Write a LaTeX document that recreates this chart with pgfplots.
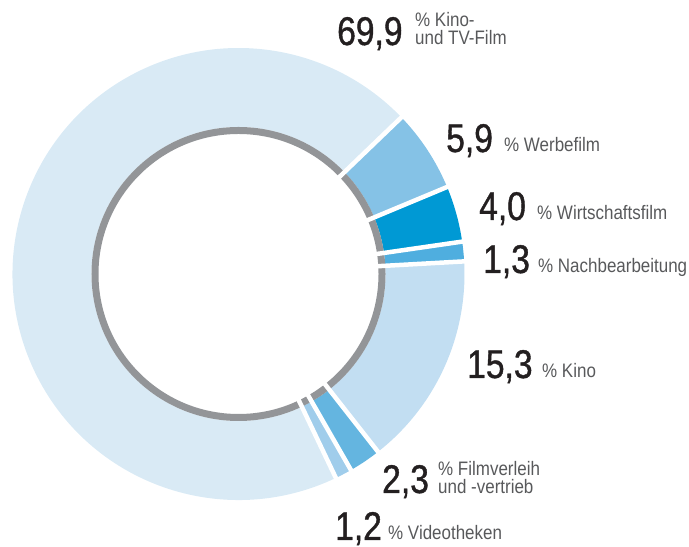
\documentclass[border=0pt]{standalone}
\usepackage{fontspec}
\setmainfont{Liberation Sans}[FakeStretch=0.87]
\newfontfamily\numfont{Liberation Sans}[FakeStretch=0.84, FakeBold=1]
\usepackage{pgfplots}
\usepackage{pgfplotstable}
\pgfplotsset{compat=1.18}

% segment colours, in table order (clockwise from the right)
\definecolor{seg0}{HTML}{C2DEF2}
\definecolor{seg1}{HTML}{64B5E0}
\definecolor{seg2}{HTML}{A0CDEB}
\definecolor{seg3}{HTML}{D9EAF5}
\definecolor{seg4}{HTML}{85C2E6}
\definecolor{seg5}{HTML}{0099D4}
\definecolor{seg6}{HTML}{4FAEDF}
\definecolor{ringgray}{HTML}{939598}
\definecolor{numcol}{HTML}{231F20}
\definecolor{txtcol}{HTML}{58595B}

\pgfplotstableread{
share
15.3
2.3
1.2
69.9
5.9
4.0
1.3
}\piedata

% cumulative angles, clockwise from 3.2 degrees
\xdef\cum{3.2}
\pgfplotsforeachungrouped \i in {0,...,6}{%
  \pgfplotstablegetelem{\i}{share}\of\piedata
  \pgfmathsetmacro\nxt{\cum-3.6*\pgfplotsretval}%
  \expandafter\xdef\csname aS\i\endcsname{\cum}%
  \expandafter\xdef\csname aE\i\endcsname{\nxt}%
  \xdef\cum{\nxt}%
}

\newcommand\bignum[1]{{\numfont\fontsize{40bp}{40bp}\selectfont\color{numcol}#1}}
\newcommand\smalltxt[1]{{\fontsize{19.5bp}{19.5bp}\selectfont\color{txtcol}#1}}
% two tight lines, baseline = last line
\newcommand\twolines[2]{{\fontsize{19.5bp}{16bp}\selectfont\color{txtcol}%
  \begin{tabular}[b]{@{}l@{}}#1\\#2\end{tabular}}}

\begin{document}
\begin{tikzpicture}
\begin{axis}[
    x=1bp, y=1bp,
    xmin=0, xmax=689, ymin=0, ymax=547,
    hide axis, clip=false, ticks=none,
    scale only axis
]
    \path (axis cs:0,0) rectangle (axis cs:689,547);

    % wedges (overlay: arc control points would widen the bounding box)
    \pgfplotsinvokeforeach{0,...,6}{
        \fill[overlay, seg#1, shift={(axis cs:238.5,273)}]
            (\csname aS#1\endcsname:226bp)
            arc[start angle=\csname aS#1\endcsname, end angle=\csname aE#1\endcsname, radius=226bp]
            -- (\csname aE#1\endcsname:147bp)
            arc[start angle=\csname aE#1\endcsname, end angle=\csname aS#1\endcsname, radius=147bp]
            -- cycle;
    }
    % inner grey ring
    \draw[overlay, ringgray, line width=7bp] (axis cs:238.5,273) circle[radius=143.5bp];
    % white gaps
    \pgfplotsinvokeforeach{0,...,6}{
        \draw[overlay, white, line width=4.5bp, shift={(axis cs:238.5,273)}]
            (\csname aS#1\endcsname:132bp) -- (\csname aS#1\endcsname:231bp);
    }

    % labels
    \node[anchor=base west, inner sep=0] at (axis cs:337,502) {\bignum{69,9}};
    \node[anchor=base west, inner sep=0] at (axis cs:415,502) {\twolines{\% Kino-}{und TV-Film}};

    \node[anchor=base west, inner sep=0] at (axis cs:446,395) {\bignum{5,9}};
    \node[anchor=base west, inner sep=0] at (axis cs:504,395) {\smalltxt{\% Werbefilm}};

    \node[anchor=base west, inner sep=0] at (axis cs:479,327) {\bignum{4,0}};
    \node[anchor=base west, inner sep=0] at (axis cs:537,327) {\smalltxt{\% Wirtschaftsfilm}};

    \node[anchor=base west, inner sep=0] at (axis cs:483,274) {\bignum{1,3}};
    \node[anchor=base west, inner sep=0] at (axis cs:538,274) {\smalltxt{\% Nachbearbeitung}};

    \node[anchor=base west, inner sep=0] at (axis cs:467,169) {\bignum{15,3}};
    \node[anchor=base west, inner sep=0] at (axis cs:542,169) {\smalltxt{\% Kino}};

    \node[anchor=base west, inner sep=0] at (axis cs:382,54) {\bignum{2,3}};
    \node[anchor=base west, inner sep=0] at (axis cs:438,53) {\twolines{\% Filmverleih}{und -vertrieb}};

    \node[anchor=base west, inner sep=0] at (axis cs:335,7) {\bignum{1,2}};
    \node[anchor=base west, inner sep=0] at (axis cs:388,7) {\smalltxt{\% Videotheken}};
\end{axis}
\end{tikzpicture}
\end{document}
